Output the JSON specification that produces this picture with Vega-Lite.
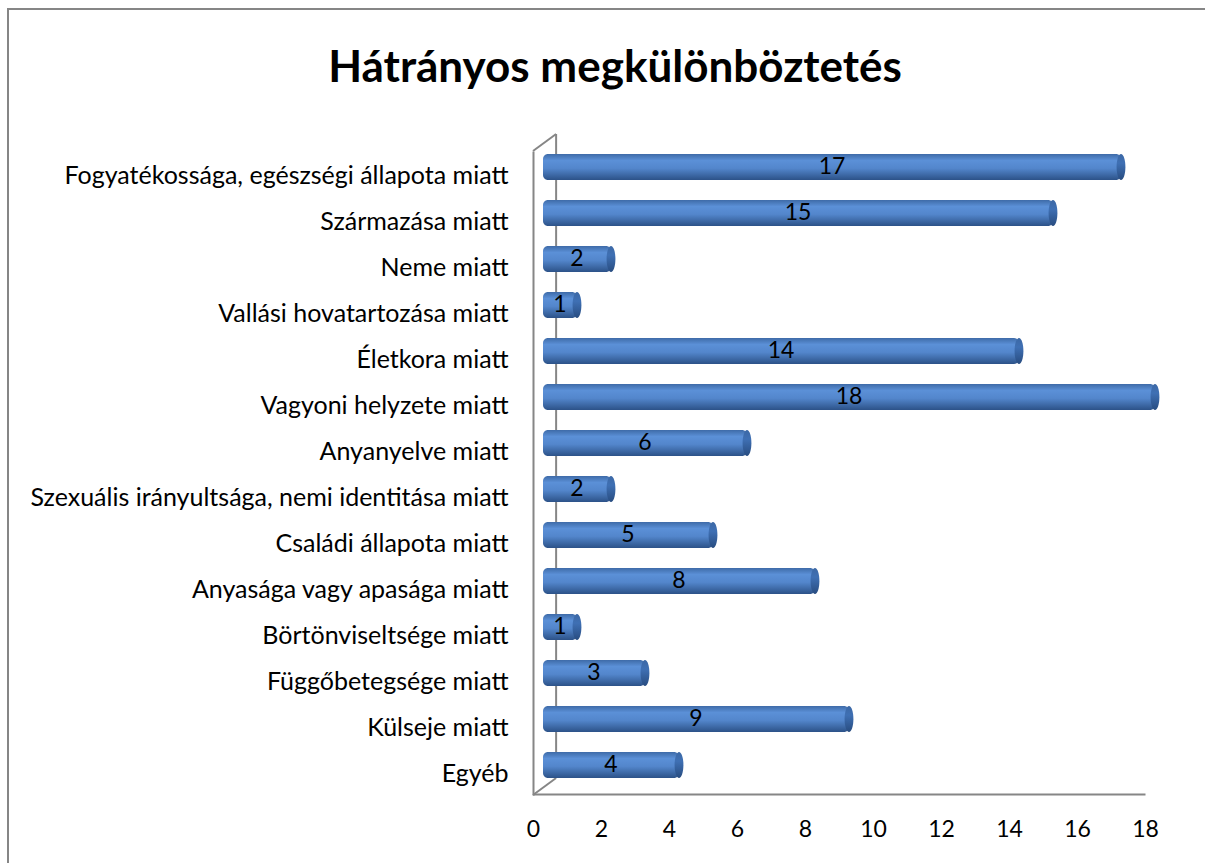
{
  "$schema": "https://vega.github.io/schema/vega-lite/v6.json",
  "width": 1200,
  "height": 860,
  "autosize": {"type": "none"},
  "padding": {"left": 8, "top": 9, "right": 0, "bottom": 0},
  "background": "white",
  "config": {"view": {"stroke": "#868686", "strokeWidth": 2}, "font": "Lato"},
  "title": {"text": "Hátrányos megkülönböztetés", "fontSize": 44, "fontWeight": "bold", "font": "Lato", "color": "#000000", "anchor": "middle", "frame": "group", "offset": -82, "dx": 7},
  "datasets": {
    "main": [
      {"kategoria": "Fogyatékossága, egészségi állapota miatt", "ertek": 17},
      {"kategoria": "Származása miatt", "ertek": 15},
      {"kategoria": "Neme miatt", "ertek": 2},
      {"kategoria": "Vallási hovatartozása miatt", "ertek": 1},
      {"kategoria": "Életkora miatt", "ertek": 14},
      {"kategoria": "Vagyoni helyzete miatt", "ertek": 18},
      {"kategoria": "Anyanyelve miatt", "ertek": 6},
      {"kategoria": "Szexuális irányultsága, nemi identitása miatt", "ertek": 2},
      {"kategoria": "Családi állapota miatt", "ertek": 5},
      {"kategoria": "Anyasága vagy apasága miatt", "ertek": 8},
      {"kategoria": "Börtönviseltsége miatt", "ertek": 1},
      {"kategoria": "Függőbetegsége miatt", "ertek": 3},
      {"kategoria": "Külseje miatt", "ertek": 9},
      {"kategoria": "Egyéb", "ertek": 4}
    ],
    "wall": [
      {"wx": 0, "wy": 14, "wx2": 0.68, "wy2": 14.37},
      {"wx": 0.68, "wy": 14.37, "wx2": 0.68, "wy2": 0.37},
      {"wx": 0, "wy": 0, "wx2": 0.68, "wy2": 0.37}
    ]
  },
  "layer": [
    {
      "data": {"name": "wall"},
      "mark": {"type": "rule", "color": "#868686", "strokeWidth": 2},
      "encoding": {
        "x": {"field": "wx", "type": "quantitative", "scale": {"domain": [0, 18], "range": [525, 1137], "nice": false, "zero": true},
              "axis": {"orient": "bottom", "offset": -75, "values": [0, 2, 4, 6, 8, 10, 12, 14, 16, 18], "format": "d", "grid": false, "ticks": false, "domainColor": "#868686", "domainWidth": 2, "labelFontSize": 23, "labelColor": "#000000", "labelPadding": 24, "labelFlush": false, "title": null}},
        "x2": {"field": "wx2"},
        "y": {"field": "wy", "type": "quantitative", "scale": {"domain": [0, 14], "range": [786, 142], "nice": false}, "axis": null},
        "y2": {"field": "wy2"}
      }
    },
    {
      "data": {"name": "main"},
      "transform": [{"calculate": "datum.ertek / 2", "as": "kozep"}],
      "encoding": {
        "y": {"field": "kategoria", "type": "nominal", "sort": null,
              "scale": {"range": [142, 786], "paddingInner": 0.435, "paddingOuter": 0.2175},
              "axis": {"orient": "left", "offset": -525, "ticks": false, "domainColor": "#868686", "domainWidth": 2, "labelFontSize": 25, "labelColor": "#000000", "labelPadding": 25, "labelOffset": 2, "labelLimit": 700, "title": null}}
      },
      "layer": [
        {
          "mark": {"type": "bar", "xOffset": 10, "x2Offset": 10, "yOffset": -7, "cornerRadius": 5,
                   "color": {"gradient": "linear", "x1": 0, "y1": 0, "x2": 0, "y2": 1,
                             "stops": [{"offset": 0, "color": "#3e6ba8"}, {"offset": 0.25, "color": "#5b90d7"}, {"offset": 0.55, "color": "#5386cc"}, {"offset": 1, "color": "#2c5288"}]}},
          "encoding": {"x": {"field": "ertek", "type": "quantitative"}, "x2": {"datum": 0}}
        },
        {
          "mark": {"type": "point", "shape": "M0,-1 A0.34,1 0 1,1 0,1 A0.34,1 0 1,1 0,-1 Z", "size": 676, "filled": true, "opacity": 1, "xOffset": 10, "yOffset": -7,
                   "color": {"gradient": "linear", "x1": 0, "y1": 0, "x2": 0, "y2": 1,
                             "stops": [{"offset": 0, "color": "#3c68a5"}, {"offset": 0.35, "color": "#3f70b4"}, {"offset": 1, "color": "#284c80"}]}},
          "encoding": {"x": {"field": "ertek", "type": "quantitative"}}
        },
        {
          "mark": {"type": "text", "xOffset": 10, "yOffset": -7, "fontSize": 23, "color": "#000000", "baseline": "middle", "align": "center"},
          "encoding": {"x": {"field": "kozep", "type": "quantitative"}, "text": {"field": "ertek", "type": "quantitative"}}
        }
      ]
    }
  ],
  "resolve": {"scale": {"y": "independent"}}
}
